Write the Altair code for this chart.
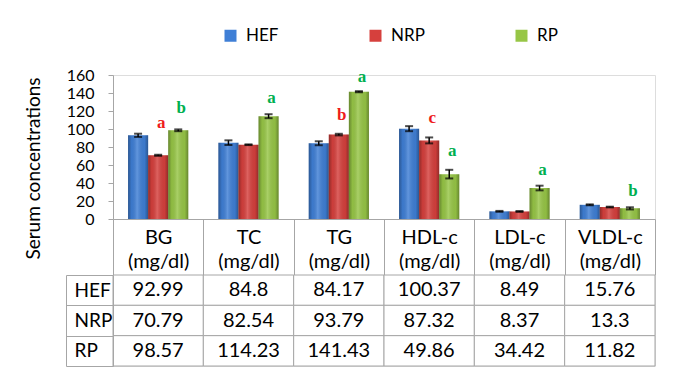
import altair as alt
import pandas as pd

categories = ["BG", "TC", "TG", "HDL-c", "LDL-c", "VLDL-c"]
unit_label = "(mg/dl)"
groups = ["HEF", "NRP", "RP"]
hef_values = [92.99, 84.8, 84.17, 100.37, 8.49, 15.76]
nrp_values = [70.79, 82.54, 93.79, 87.32, 8.37, 13.3]
rp_values = [98.57, 114.23, 141.43, 49.86, 34.42, 11.82]
hef_errors = [1.8, 2.6, 2.2, 2.8, 0.5, 0.5]
nrp_errors = [0.6, 0.4, 0.9, 3.3, 0.5, 0.4]
rp_errors = [1.0, 2.2, 0.6, 4.8, 2.6, 1.2]
y_ticks = [0, 20, 40, 60, 80, 100, 120, 140, 160]

sig_categories = ["BG", "BG", "TC", "TG", "TG", "HDL-c", "HDL-c", "LDL-c", "VLDL-c"]
sig_groups = ["NRP", "RP", "RP", "NRP", "RP", "NRP", "RP", "RP", "RP"]
sig_letters = ["a", "b", "a", "b", "a", "c", "a", "a", "b"]
sig_heights = [107, 123, 134, 115.5, 158, 112, 75.5, 54, 31]

group_colors = ["#3f7fd6", "#d6403d", "#97c646"]
letter_red = "#ee1c1c"
letter_green = "#00b050"
line_gray = "#a6a6a6"
FONT = "Lato"

rows = []
for g, vals, errs in zip(groups, [hef_values, nrp_values, rp_values],
                         [hef_errors, nrp_errors, rp_errors]):
    for c, v, e in zip(categories, vals, errs):
        rows.append({"cat": c, "group": g, "value": v, "lo": v - e,
                     "hi": v + e, "text": f"{v:g}"})
df = pd.DataFrame(rows)

sig_df = pd.DataFrame({"cat": sig_categories, "group": sig_groups,
                       "letter": sig_letters, "y": sig_heights})

x_axis = alt.Axis(title=None, labelAngle=0, domainColor=line_gray,
                  tickColor=line_gray, tickBand="extent", tickSize=56,
                  labelPadding=-48, labelFontSize=20, labelFont=FONT,
                  labelColor="black", labelLineHeight=24,
                  labelBaseline="top", labelOverlap=False, labelFlush=False,
                  labelExpr="datum.label ? [datum.label, '" + unit_label + "'] : ''")
x_enc = alt.X("cat:N", sort=categories,
              scale=alt.Scale(paddingInner=0, paddingOuter=0), axis=x_axis)
xoff_enc = alt.XOffset("group:N", sort=groups,
                       scale=alt.Scale(paddingInner=0, paddingOuter=0.75))
y_scale = alt.Scale(domain=[0, 160], nice=False, zero=True)
y_axis = alt.Axis(values=y_ticks, tickCount=9, grid=False,
                  domainColor=line_gray, tickColor=line_gray, tickSize=5,
                  labelFontSize=16, labelFont=FONT, labelColor="black",
                  labelPadding=14, labelOverlap=False, labelFlush=False,
                  labelSeparation=0,
                  title="Serum concentrations", titleFontSize=19,
                  titleFont=FONT, titleFontWeight="normal",
                  titleColor="black", titlePadding=23, titleY=93)


def ypos(field):
    return alt.Y(field, type="quantitative", scale=y_scale, axis=y_axis)


bars = alt.Chart(df).mark_bar().encode(
    x=x_enc, xOffset=xoff_enc, y=ypos("value"),
    color=alt.Color("group:N", sort=groups,
                    scale=alt.Scale(domain=groups, range=group_colors),
                    legend=alt.Legend(title=None, orient="none",
                                      direction="horizontal", legendX=109,
                                      legendY=-48, symbolType="square",
                                      symbolSize=144, symbolStrokeWidth=0,
                                      labelFontSize=17, labelFont=FONT,
                                      labelColor="black", columnPadding=88,
                                      labelOffset=7, padding=0)),
)

shine = alt.Chart(df).mark_bar(
    color=alt.LinearGradient(
        gradient="linear", x1=0, x2=1, y1=0, y2=0,
        stops=[alt.GradientStop(color="rgba(0,0,0,0.32)", offset=0),
               alt.GradientStop(color="rgba(0,0,0,0.05)", offset=0.18),
               alt.GradientStop(color="rgba(255,255,255,0.18)", offset=0.45),
               alt.GradientStop(color="rgba(0,0,0,0.05)", offset=0.82),
               alt.GradientStop(color="rgba(0,0,0,0.32)", offset=1)])
).encode(x=x_enc, xOffset=xoff_enc, y=ypos("value"))

err_rule = alt.Chart(df).mark_rule(color="black", strokeWidth=1.5).encode(
    x=x_enc, xOffset=xoff_enc, y=ypos("lo"), y2="hi:Q")
err_lo = alt.Chart(df).mark_tick(color="black", thickness=2, size=8).encode(
    x=x_enc, xOffset=xoff_enc, y=ypos("lo"))
err_hi = alt.Chart(df).mark_tick(color="black", thickness=2, size=8).encode(
    x=x_enc, xOffset=xoff_enc, y=ypos("hi"))


def letters(group, color):
    return alt.Chart(sig_df).transform_filter(
        alt.datum.group == group
    ).mark_text(font="Liberation Serif", fontWeight="bold", fontSize=17,
                color=color, baseline="middle", dx=3).encode(
        x=x_enc, xOffset=xoff_enc, y=ypos("y"), text="letter:N")


top = alt.layer(bars, shine, err_rule, err_lo, err_hi,
                letters("NRP", letter_red), letters("RP", letter_green)
                ).properties(width=542, height=144)

tx = alt.X("cat:N", sort=categories,
           scale=alt.Scale(paddingInner=0, paddingOuter=0), axis=None)
ty_scale = alt.Scale(paddingInner=0, paddingOuter=0)
cells = alt.Chart(df).mark_rect(fill="white", stroke=line_gray,
                                strokeWidth=1).encode(
    x=tx,
    y=alt.Y("group:N", sort=groups, scale=ty_scale,
            axis=alt.Axis(title=None, domainColor=line_gray,
                          tickColor=line_gray, tickBand="extent", tickSize=47,
                          labelAlign="left", labelPadding=-8,
                          labelBaseline="middle", labelFontSize=19,
                          labelFont=FONT, labelColor="black")))
texts = alt.Chart(df).mark_text(fontSize=20, font=FONT, color="black").encode(
    x=tx,
    y=alt.Y("group:N", sort=groups, scale=ty_scale,
            axis=alt.Axis(title=None, orient="left", offset=47, labels=False,
                          ticks=False, domainColor=line_gray)),
    text="text:N")
table = alt.layer(cells, texts).resolve_axis(y="independent").properties(
    width=542, height=91)

chart = alt.vconcat(top, table, spacing=56, bounds="flush").resolve_scale(
    color="independent").resolve_legend(color="independent").properties(
    padding={"left": 15, "top": 18, "right": 20, "bottom": 4}
).configure_view(strokeWidth=0).configure_axisY(
    labelOverlap=False).configure(background="white")

chart.save("out.html", embed_options={"renderer": "svg", "actions": False})
